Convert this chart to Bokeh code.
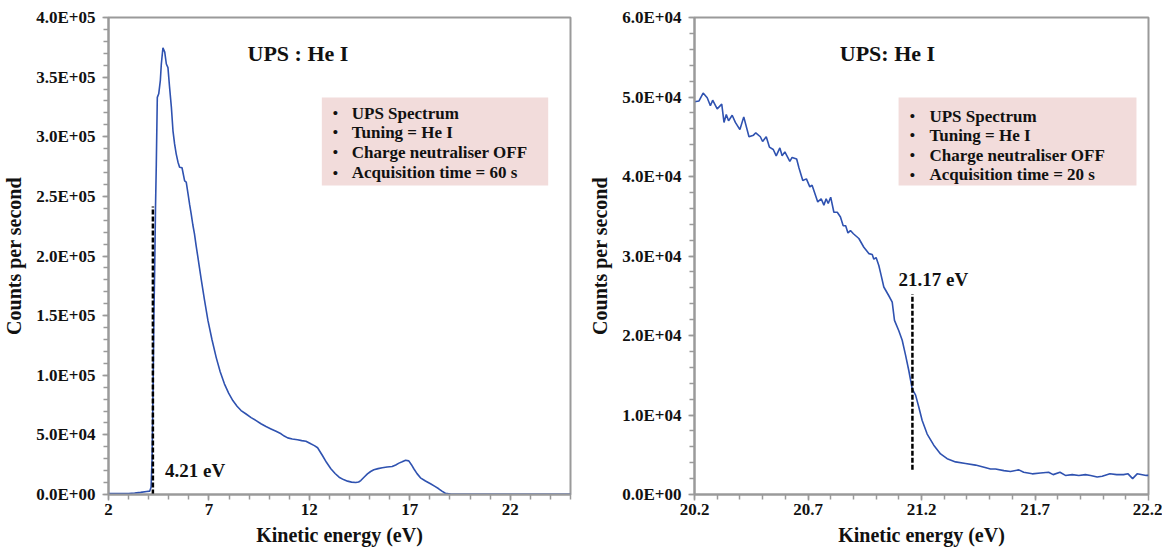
import numpy as np
from bokeh.plotting import figure
from bokeh.layouts import row
from bokeh.models import Range1d, FixedTicker, BoxAnnotation, Label
from bokeh.embed import file_html
from bokeh.resources import INLINE

# ---------------- data ----------------
# Left panel: wide UPS He I spectrum
left_energy = [2.0, 2.5, 3.0, 3.3, 3.6, 3.9, 4.05, 4.12, 4.17, 4.22, 4.26, 4.30, 4.34, 4.38,
               4.43, 4.50, 4.58, 4.63, 4.71, 4.80, 4.88, 4.96, 5.04, 5.13, 5.21, 5.29,
               5.37, 5.46, 5.54, 5.66, 5.79, 5.87, 5.96, 6.04, 6.12, 6.20, 6.28, 6.36,
               6.45, 6.53, 6.62, 6.78, 6.95, 7.15, 7.36, 7.56, 7.77, 7.98, 8.19, 8.40,
               8.60, 8.85, 9.10, 9.35, 9.59, 9.84, 10.09, 10.34, 10.59, 10.75, 10.92,
               11.15, 11.41, 11.62, 11.83, 12.07, 12.25, 12.41, 12.65, 12.85, 13.07,
               13.28, 13.48, 13.70, 13.90, 14.10, 14.31, 14.45, 14.56, 14.72, 14.89,
               15.05, 15.21, 15.42, 15.63, 15.87, 16.12, 16.30, 16.46, 16.62, 16.79,
               16.95, 17.08, 17.20, 17.36, 17.53, 17.78, 18.03, 18.25, 18.44, 18.60,
               18.77, 19.02, 20.0, 21.0, 22.0, 23.0, 24.0, 25.0]
left_counts = [800, 700, 900, 1300, 1800, 2500, 2800, 6000, 30000, 90000, 150000, 190000,
               240000, 277000, 333000, 336000, 347000, 361000, 374600, 371000, 361000,
               358000, 341600, 324800, 305000, 294000, 285700, 278700, 274500, 274000,
               263000, 262000, 252000, 243000, 235000, 226000, 218600, 209000, 199000,
               190000, 180000, 163000, 146000, 130000, 115000, 103000, 92800, 85000,
               78800, 74000, 70400, 67500, 64500, 62000, 59300, 57000, 55000, 53000,
               50900, 49000, 47500, 46500, 45900, 45200, 44700, 42500, 41000, 39200,
               32700, 27000, 21600, 17600, 14500, 12500, 11200, 10400, 10100, 10500,
               11700, 14500, 17300, 19300, 20700, 21700, 22400, 23000, 23500, 24800,
               26300, 27500, 28800, 28200, 25000, 21600, 17500, 14000, 11300, 9000,
               6800, 4800, 2800, 1100, 300, 200, 200, 150, 150, 100, 100]

# Right panel: zoom on the high kinetic-energy cut-off
right_energy = [20.200, 20.220, 20.238, 20.256, 20.270, 20.280, 20.300, 20.320, 20.330,
                20.340, 20.350, 20.366, 20.380, 20.400, 20.417, 20.440, 20.460, 20.470,
                20.490, 20.500, 20.516, 20.530, 20.547, 20.560, 20.576, 20.586, 20.598,
                20.620, 20.630, 20.650, 20.660, 20.677, 20.693, 20.708, 20.718, 20.743,
                20.758, 20.770, 20.780, 20.789, 20.800, 20.814, 20.829, 20.843, 20.855,
                20.866, 20.876, 20.887, 20.900, 20.924, 20.946, 20.968, 20.983, 20.990,
                21.000, 21.012, 21.022, 21.034, 21.056, 21.071, 21.081, 21.100, 21.115,
                21.130, 21.144, 21.159, 21.174, 21.188, 21.203, 21.225, 21.254, 21.284,
                21.313, 21.350, 21.394, 21.438, 21.480, 21.504, 21.526, 21.563, 21.592,
                21.629, 21.650, 21.688, 21.724, 21.760, 21.780, 21.810, 21.834, 21.864,
                21.893, 21.922, 21.945, 21.974, 21.996, 22.030, 22.060, 22.090, 22.110,
                22.130, 22.150, 22.190, 22.200]
right_counts = [49400, 49500, 50500, 49900, 48900, 49600, 48500, 49100, 46800, 47800,
                47000, 47700, 46800, 45900, 47500, 45000, 45200, 45500, 45000, 44400,
                45000, 43700, 43400, 42600, 43600, 42600, 43100, 41900, 42400, 42200,
                41100, 39500, 39700, 38700, 38900, 36800, 37200, 36400, 37200, 36600,
                37400, 35500, 35500, 34900, 33800, 33800, 32900, 33200, 32800, 32200,
                31100, 30300, 30200, 29600, 29800, 28800, 27600, 26100, 25000, 24200,
                21900, 20600, 19400, 17500, 15600, 13300, 12500, 11000, 9300, 7600,
                6200, 5100, 4500, 4100, 3900, 3700, 3400, 3200, 3200, 3000, 2900,
                3100, 2800, 2600, 2700, 2800, 2500, 2800, 2400, 2500, 2400, 2500,
                2400, 2200, 2300, 2600, 2500, 2500, 2600, 2000, 2600, 2400, 2400]

left_xticks = [2, 7, 12, 17, 22]
left_xtick_labels = ["2", "7", "12", "17", "22"]
left_yticks = [0, 50000, 100000, 150000, 200000, 250000, 300000, 350000, 400000]
left_ytick_labels = ["0.0E+00", "5.0E+04", "1.0E+05", "1.5E+05", "2.0E+05",
                     "2.5E+05", "3.0E+05", "3.5E+05", "4.0E+05"]
right_xticks = [20.2, 20.7, 21.2, 21.7, 22.2]
right_xtick_labels = ["20.2", "20.7", "21.2", "21.7", "22.2"]
right_yticks = [0, 10000, 20000, 30000, 40000, 50000, 60000]
right_ytick_labels = ["0.0E+00", "1.0E+04", "2.0E+04", "3.0E+04", "4.0E+04",
                      "5.0E+04", "6.0E+04"]

left_title = "UPS : He I"
right_title = "UPS: He I"
left_notes = ["UPS Spectrum", "Tuning = He I", "Charge neutraliser OFF",
              "Acquisition time = 60 s"]
right_notes = ["UPS Spectrum", "Tuning = He I", "Charge neutraliser OFF",
               "Acquisition time = 20 s"]
left_edge = 4.21
left_edge_label = "4.21 eV"
right_edge = 21.17
right_edge_label = "21.17 eV"

# ---------------- styling ----------------
FONT = "Liberation Serif"
LINE_COL = "#2f52b0"
AX_COL = "#9a9a9a"
BOX_COL = "#f2dcdb"


def style(p, xt, xtl, xminor, yt, ytl, yminor):
    p.xaxis.ticker = FixedTicker(ticks=xt, minor_ticks=xminor)
    p.yaxis.ticker = FixedTicker(ticks=yt, minor_ticks=yminor)
    p.xaxis.major_label_overrides = {t: l for t, l in zip(xt, xtl)}
    p.yaxis.major_label_overrides = {t: l for t, l in zip(yt, ytl)}
    p.xgrid.visible = False
    p.ygrid.visible = False
    for ax in (p.xaxis, p.yaxis):
        ax.axis_line_color = AX_COL
        ax.axis_line_width = 2
        ax.major_tick_line_color = AX_COL
        ax.minor_tick_line_color = AX_COL
        ax.major_tick_line_width = 1.5
        ax.minor_tick_line_width = 1.5
        ax.major_tick_in = 0
        ax.major_tick_out = 6
        ax.minor_tick_in = 0
        ax.minor_tick_out = 5
        ax.major_label_text_font = FONT
        ax.major_label_text_font_style = "bold"
        ax.major_label_text_font_size = "17px"
        ax.major_label_text_color = "#111111"
        ax.axis_label_text_font = FONT
        ax.axis_label_text_font_style = "bold"
        ax.axis_label_text_font_size = "20px"
        ax.axis_label_text_color = "#111111"
    p.yaxis.major_label_standoff = 7
    p.xaxis.major_label_standoff = 3
    p.yaxis.axis_label_standoff = 8
    p.xaxis.axis_label_standoff = 6
    p.xaxis.axis_label = "Kinetic energy (eV)"
    p.yaxis.axis_label = "Counts per second"
    p.outline_line_color = AX_COL
    p.outline_line_width = 2
    p.background_fill_color = "white"
    p.border_fill_color = "white"


def notes(p, x0, x1, ytop, ybot, bx, tx, ys, lines):
    p.add_layout(BoxAnnotation(left=x0, right=x1, top=ytop, bottom=ybot,
                               fill_color=BOX_COL, fill_alpha=1.0, line_color=None,
                               level="underlay"))
    for yy, t in zip(ys, lines):
        p.add_layout(Label(x=bx, y=yy, text="\u2022", text_font=FONT,
                           text_font_style="bold", text_font_size="15px",
                           text_align="center", text_baseline="middle",
                           text_color="#111111"))
        p.add_layout(Label(x=tx, y=yy, text=t, text_font=FONT,
                           text_font_style="bold", text_font_size="17px",
                           text_align="left", text_baseline="middle",
                           text_color="#111111"))


H = 554
TOP = 17
BOTTOM = H - TOP - 477

# ---------------- left panel ----------------
p1 = figure(width=580, height=H, output_backend="svg", toolbar_location=None,
            x_range=Range1d(2, 25), y_range=Range1d(0, 400000),
            min_border_left=107, min_border_right=10, min_border_top=TOP,
            min_border_bottom=BOTTOM)
style(p1, left_xticks, left_xtick_labels, list(np.arange(2, 25.01, 1.0)),
      left_yticks, left_ytick_labels, list(np.arange(0, 400001, 10000)))
p1.line(left_energy, left_counts, line_color=LINE_COL, line_width=1.6)
p1.line([left_edge, left_edge], [0, 241500], line_color="black", line_width=2.5,
        line_dash="5 2")
p1.add_layout(Label(x=4.81, y=20100, text=left_edge_label, text_font=FONT,
                    text_font_style="bold", text_font_size="19px",
                    text_align="left", text_baseline="middle", text_color="#111111"))
p1.add_layout(Label(x=11.43, y=369800, text=left_title, text_font=FONT,
                    text_font_style="bold", text_font_size="22px",
                    text_align="center", text_baseline="middle", text_color="#111111"))
notes(p1, 12.62, 23.89, 332900, 259100, 13.30, 14.11,
      [319500, 303600, 286800, 270000], left_notes)

# ---------------- right panel ----------------
p2 = figure(width=582, height=H, output_backend="svg", toolbar_location=None,
            x_range=Range1d(20.2, 22.2), y_range=Range1d(0, 60000),
            min_border_left=114, min_border_right=14, min_border_top=TOP,
            min_border_bottom=BOTTOM)
style(p2, right_xticks, right_xtick_labels, list(np.arange(20.2, 22.21, 0.1)),
      right_yticks, right_ytick_labels, list(np.arange(0, 60001, 2000)))
p2.line(right_energy, right_counts, line_color=LINE_COL, line_width=1.6)
p2.line([21.16, 21.16], [3100, 25200], line_color="black", line_width=2.5,
        line_dash="5 2")
p2.add_layout(Label(x=21.099, y=27100, text=right_edge_label, text_font=FONT,
                    text_font_style="bold", text_font_size="19px",
                    text_align="left", text_baseline="middle", text_color="#111111"))
p2.add_layout(Label(x=21.05, y=55500, text=right_title, text_font=FONT,
                    text_font_style="bold", text_font_size="22px",
                    text_align="center", text_baseline="middle", text_color="#111111"))
notes(p2, 21.099, 22.147, 49940, 38870, 21.16, 21.235,
      [47610, 45220, 42700, 40190], right_notes)

layout = row(p1, p2)
open("out.html", "w").write(file_html(layout, INLINE))
